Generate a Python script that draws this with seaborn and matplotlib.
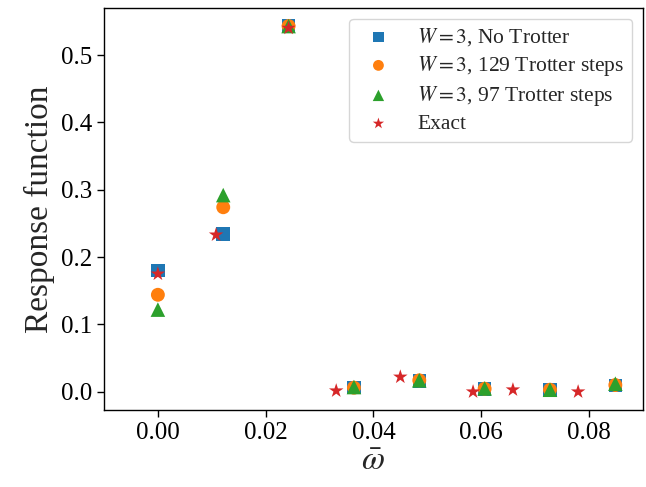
import numpy as np
import pandas as pd
import matplotlib
matplotlib.use("Agg")
import matplotlib.pyplot as plt
import seaborn as sns

# Data
omega_w3 = [0.0, 0.01213, 0.02426, 0.03639, 0.04852, 0.06065, 0.07278, 0.08491]
no_trotter = [0.180, 0.234, 0.543, 0.006, 0.016, 0.0045, 0.003, 0.009]
trotter129 = [0.144, 0.274, 0.543, 0.006, 0.017, 0.0045, 0.003, 0.010]
trotter97 = [0.122, 0.292, 0.543, 0.007, 0.017, 0.0050, 0.003, 0.012]
omega_exact = [0.0, 0.0108, 0.02426, 0.0331, 0.0450, 0.0585, 0.0659, 0.0780]
exact = [0.175, 0.233, 0.540, 0.0015, 0.022, 0.0, 0.003, 0.0]

labels = [r"$W=3$, No Trotter", r"$W=3$, 129 Trotter steps",
          r"$W=3$, 97 Trotter steps", "Exact"]

sns.set_theme(style="ticks")
plt.rcParams['font.family'] = ['Liberation Serif', 'DejaVu Serif']
plt.rcParams['mathtext.fontset'] = 'stix'
plt.rcParams['axes.edgecolor'] = 'black'
plt.rcParams['xtick.color'] = 'black'
plt.rcParams['ytick.color'] = 'black'

fig = plt.figure(figsize=(6.46, 4.87), dpi=100)
ax = fig.add_axes([0.161, 0.158, 0.834, 0.826])

pal = sns.color_palette("tab10")
series = [
    (omega_w3, no_trotter, "s", pal[0], 95, labels[0]),
    (omega_w3, trotter129, "o", pal[1], 100, labels[1]),
    (omega_w3, trotter97, "^", pal[2], 110, labels[2]),
    (omega_exact, exact, "*", pal[3], 120, labels[3]),
]
for xs, ys, m, c, s, lab in series:
    df = pd.DataFrame({"x": xs, "y": ys})
    sns.scatterplot(data=df, x="x", y="y", marker=m, color=c, s=s,
                    edgecolor="none", linewidth=0, label=lab, ax=ax)

ax.set_xlim(-0.01, 0.09)
ax.set_xticks([0.0, 0.02, 0.04, 0.06, 0.08])
ax.set_yticks([0.0, 0.1, 0.2, 0.3, 0.4, 0.5])
ax.tick_params(labelsize=18, length=5, width=1)
ax.set_xlabel(r"$\bar{\omega}$", fontsize=24, labelpad=2)
ax.set_ylabel("Response function", fontsize=24)
for sp in ax.spines.values():
    sp.set_linewidth(1)
ax.legend(loc="upper right", fontsize=15.5, markerscale=0.78, frameon=True,
          labelspacing=0.28, borderpad=0.35)

fig.savefig("out.png", dpi=100)
